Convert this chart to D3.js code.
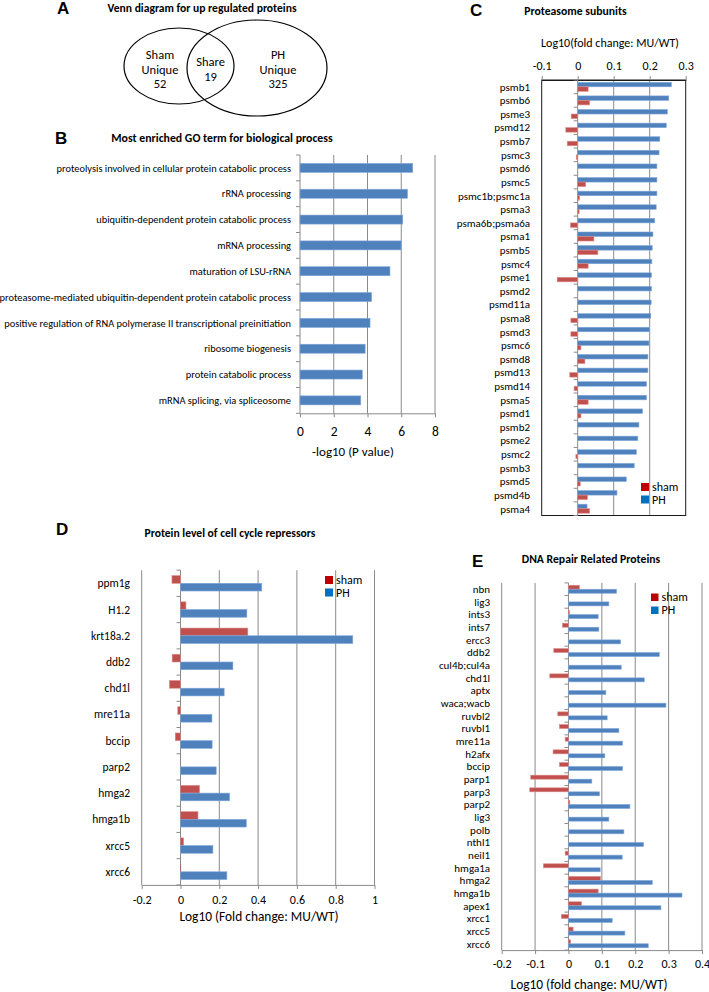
<!DOCTYPE html>
<html>
<head>
<meta charset="utf-8">
<script src="https://cdn.jsdelivr.net/npm/d3@7"></script>
<style>
  body { margin: 0; background: #fff; }
  svg { display: block; }
</style>
</head>
<body>
<svg id="fig" width="709" height="992"></svg>
<script>
// ---- data ----
const seriesNames = ['sham', 'PH']

const vennNames = [['Sham', 'Unique'], ['Share'], ['PH', 'Unique']]
const vennCounts = [52, 19, 325]

const goTerms = [
  'proteolysis involved in cellular protein catabolic process',
  'rRNA processing',
  'ubiquitin-dependent protein catabolic process',
  'mRNA processing',
  'maturation of LSU-rRNA',
  'proteasome-mediated ubiquitin-dependent protein catabolic process',
  'positive regulation of RNA polymerase II transcriptional preinitiation',
  'ribosome biogenesis',
  'protein catabolic process',
  'mRNA splicing, via spliceosome'
]
const goScores = [6.68, 6.37, 6.09, 5.99, 5.33, 4.24, 4.15, 3.86, 3.69, 3.6]
const goTicks = [0, 2, 4, 6, 8]

const proteasomeGenes = ['psmb1', 'psmb6', 'psme3', 'psmd12', 'psmb7', 'psmc3', 'psmd6', 'psmc5',
  'psmc1b;psmc1a', 'psma3', 'psma6b;psma6a', 'psma1', 'psmb5', 'psmc4', 'psme1', 'psmd2', 'psmd11a',
  'psma8', 'psmd3', 'psmc6', 'psmd8', 'psmd13', 'psmd14', 'psma5', 'psmd1', 'psmb2', 'psme2', 'psmc2',
  'psmb3', 'psmd5', 'psmd4b', 'psma4']
const proteasomePH = [0.260, 0.253, 0.249, 0.246, 0.228, 0.226, 0.220, 0.220, 0.220, 0.218, 0.214,
  0.209, 0.207, 0.206, 0.205, 0.205, 0.204, 0.203, 0.200, 0.198, 0.195, 0.195, 0.191, 0.191, 0.180,
  0.170, 0.167, 0.163, 0.157, 0.135, 0.109, 0.026]
const proteasomeSham = [0.029, 0.033, -0.018, -0.033, -0.029, -0.004, 0.0, 0.022, 0.005, 0.004, -0.020,
  0.045, 0.056, 0.029, -0.057, 0.0, 0.0, -0.019, -0.019, 0.009, 0.020, -0.022, -0.010, 0.029, 0.009,
  0.0, 0.0, -0.005, 0.0, 0.007, 0.027, 0.033]
const proteasomeTicks = [-0.1, 0, 0.1, 0.2, 0.3]

const cycleGenes = ['ppm1g', 'H1.2', 'krt18a.2', 'ddb2', 'chd1l', 'mre11a', 'bccip', 'parp2', 'hmga2',
  'hmga1b', 'xrcc5', 'xrcc6']
const cyclePH = [0.419, 0.342, 0.888, 0.270, 0.225, 0.162, 0.163, 0.184, 0.253, 0.339, 0.167, 0.239]
const cycleSham = [-0.044, 0.028, 0.347, -0.043, -0.057, -0.014, -0.027, 0.0, 0.098, 0.090, 0.016, 0.003]
const cycleTicks = [-0.2, 0, 0.2, 0.4, 0.6, 0.8, 1]

const repairGenes = ['nbn', 'lig3', 'ints3', 'ints7', 'ercc3', 'ddb2', 'cul4b;cul4a', 'chd1l', 'aptx',
  'waca;wacb', 'ruvbl2', 'ruvbl1', 'mre11a', 'h2afx', 'bccip', 'parp1', 'parp3', 'parp2', 'lig3', 'polb',
  'nthl1', 'neil1', 'hmga1a', 'hmga2', 'hmga1b', 'apex1', 'xrcc1', 'xrcc5', 'xrcc6']
const repairPH = [0.144, 0.121, 0.089, 0.091, 0.156, 0.272, 0.158, 0.227, 0.112, 0.292, 0.116, 0.151,
  0.162, 0.109, 0.162, 0.070, 0.093, 0.184, 0.121, 0.166, 0.225, 0.161, 0.095, 0.251, 0.340, 0.277,
  0.131, 0.169, 0.239]
const repairSham = [0.033, 0.0, 0.003, -0.018, 0.0, -0.044, 0.0, -0.056, 0.0, 0.0, -0.032, -0.027,
  -0.010, -0.046, -0.027, -0.113, -0.116, 0.004, 0.0, 0.0, 0.0, -0.010, -0.075, 0.096, 0.089, 0.039,
  -0.021, 0.014, 0.006]
const repairTicks = [-0.2, -0.1, 0, 0.1, 0.2, 0.3, 0.4]

// ---- styles ----
const FONT = "Carlito, Lato, 'Noto Sans', sans-serif"
const BLUE = '#4f81bd'
const RED = '#c0504d'
const GRID = '#8a8a8a'
const legendColors = ['#c00000', '#0070c0']

const svg = d3.select('#fig').attr('font-family', FONT)

function panelLetter (letter, x, y) {
  svg.append('text').attr('x', x).attr('y', y)
    .attr('font-family', "'Liberation Sans', Arial, sans-serif")
    .attr('font-weight', 'bold').attr('font-size', 17).text(letter)
}

function panelTitle (txt, cx, y, size) {
  svg.append('text').attr('x', cx).attr('y', y).attr('text-anchor', 'middle')
    .attr('font-weight', 'bold').attr('font-size', size).text(txt)
}

function legend (x, y, gap, size, fontSize) {
  const g = svg.append('g')
  seriesNames.forEach((name, i) => {
    g.append('rect').attr('x', x).attr('y', y + i * gap).attr('width', size).attr('height', size)
      .attr('fill', legendColors[i])
    g.append('text').attr('x', x + size + 3).attr('y', y + i * gap + size / 2).attr('dy', '0.35em')
      .attr('font-size', fontSize).text(name)
  })
}

function hbars (cfg) {
  const g = svg.append('g')
  const [top, bottom] = cfg.yRange
  const x = d3.scaleLinear().domain(cfg.domain).range(cfg.xRange)
  const y = d3.scaleBand().domain(d3.range(cfg.cats.length)).range(cfg.yRange)

  // vertical gridlines
  g.append('g').selectAll('line').data(cfg.grid).join('line')
    .attr('x1', d => x(d)).attr('x2', d => x(d))
    .attr('y1', top).attr('y2', bottom)
    .attr('stroke', GRID)

  if (cfg.box) {
    g.append('rect').attr('x', cfg.xRange[0]).attr('y', top)
      .attr('width', cfg.xRange[1] - cfg.xRange[0]).attr('height', bottom - top)
      .attr('fill', 'none').attr('stroke', '#1a1a1a')
  }

  // value axis
  const axis = (cfg.axisTop ? d3.axisTop(x) : d3.axisBottom(x))
    .tickValues(cfg.ticks)
    .tickFormat(d => String(+d.toFixed(1)))
    .tickSizeInner(4).tickSizeOuter(0).tickPadding(cfg.tickPad)
  const ax = g.append('g')
    .attr('transform', `translate(0,${cfg.axisTop ? top : bottom})`)
    .call(axis)
  ax.select('.domain').attr('stroke', cfg.box ? '#1a1a1a' : GRID)
  ax.selectAll('.tick line').attr('stroke', GRID)
  ax.selectAll('.tick text').attr('font-family', FONT).attr('font-size', cfg.tickFont).attr('fill', '#000')

  // category axis on the zero line, ticks between categories
  const x0 = x(0)
  g.append('line').attr('x1', x0).attr('x2', x0).attr('y1', top).attr('y2', bottom).attr('stroke', GRID)
  g.append('g').selectAll('line').data(d3.range(cfg.cats.length + 1)).join('line')
    .attr('x1', x0 - 4).attr('x2', x0)
    .attr('y1', i => top + i * y.step()).attr('y2', i => top + i * y.step())
    .attr('stroke', GRID)

  // bars, one row per series inside each band
  const n = cfg.series.length
  cfg.series.forEach((s, k) => {
    g.append('g').selectAll('rect').data(s.values).join('rect')
      .attr('x', v => x(Math.min(0, v)))
      .attr('width', v => Math.abs(x(v) - x0))
      .attr('y', (v, i) => y(i) + y.bandwidth() / 2 - n * cfg.barH / 2 + k * cfg.barH)
      .attr('height', cfg.barH)
      .attr('fill', s.color)
      .attr('stroke', v => Math.abs(x(v) - x0) > 1 ? s.edge : 'none')
      .attr('stroke-width', 0.6)
  })

  // category labels
  g.append('g').selectAll('text').data(cfg.cats).join('text')
    .attr('x', cfg.labelX)
    .attr('y', (c, i) => y(i) + y.bandwidth() / 2)
    .attr('dy', '0.35em')
    .attr('text-anchor', 'end')
    .attr('font-size', cfg.labelFont)
    .text(c => c)

  // axis title
  g.append('text').attr('x', cfg.title[0]).attr('y', cfg.title[1])
    .attr('text-anchor', 'middle').attr('font-size', cfg.titleFont)
    .text(cfg.title[2])
}

const blueSeries = values => ({ values, color: BLUE, edge: '#7fa7d9' })
const redSeries = values => ({ values, color: RED, edge: '#dc8a88' })

// ---- A: Venn ----
panelLetter('A', 57, 14)
panelTitle('Venn diagram for up regulated proteins', 202, 12, 11.6)

const venn = svg.append('g')
venn.append('ellipse').attr('cx', 179).attr('cy', 66).attr('rx', 55).attr('ry', 38)
  .attr('fill', 'none').attr('stroke', '#000').attr('stroke-width', 1.2)
venn.append('ellipse').attr('cx', 257).attr('cy', 68).attr('rx', 70).attr('ry', 48)
  .attr('fill', 'none').attr('stroke', '#000').attr('stroke-width', 1.2)

const vennCenters = [[160, 59], [210.5, 66], [278, 59]]
vennNames.forEach((lines, i) => {
  const rows = lines.concat(String(vennCounts[i]))
  rows.forEach((t, j) => {
    venn.append('text').attr('x', vennCenters[i][0]).attr('y', vennCenters[i][1] + j * 14.5)
      .attr('text-anchor', 'middle').attr('font-size', 12.5).text(t)
  })
})

// ---- B: GO terms ----
panelLetter('B', 55, 144)
panelTitle('Most enriched GO term for biological process', 222, 142, 11.8)
hbars({
  cats: goTerms,
  series: [blueSeries(goScores)],
  domain: [0, 8], xRange: [300, 435],
  yRange: [155, 413.3],
  grid: [2, 4, 6, 8],
  ticks: goTicks,
  axisTop: false, tickPad: 9, tickFont: 13.5,
  barH: 9,
  labelX: 291, labelFont: 10.4,
  title: [353, 456, '-log10 (P value)'], titleFont: 13
})

// ---- C: proteasome ----
panelLetter('C', 470, 16)
panelTitle('Proteasome subunits', 575.5, 15, 11.7)
hbars({
  cats: proteasomeGenes,
  series: [blueSeries(proteasomePH), redSeries(proteasomeSham)],
  domain: [-0.1, 0.3], xRange: [541.7, 685.7],
  yRange: [80, 515.5],
  grid: [0.1, 0.2],
  box: true,
  ticks: proteasomeTicks,
  axisTop: true, tickPad: 6, tickFont: 12,
  barH: 4.5,
  labelX: 530, labelFont: 11,
  title: [610, 47, 'Log10(fold change: MU/WT)'], titleFont: 12
})
legend(641, 483, 12.5, 8, 12)

// ---- D: cell cycle repressors ----
panelLetter('D', 56, 535)
panelTitle('Protein level of cell cycle repressors', 230, 537, 11.6)
hbars({
  cats: cycleGenes,
  series: [redSeries(cycleSham), blueSeries(cyclePH)],
  domain: [-0.2, 1], xRange: [141.7, 374.5],
  yRange: [570.2, 884.9],
  grid: [-0.2, 0.2, 0.4, 0.6, 0.8, 1],
  ticks: cycleTicks,
  axisTop: false, tickPad: 7, tickFont: 12,
  barH: 7.7,
  labelX: 130, labelFont: 11.5,
  title: [259, 921, 'Log10 (Fold change: MU/WT)'], titleFont: 13.4
})
legend(325, 576, 12.5, 8, 12)

// ---- E: DNA repair ----
panelLetter('E', 472, 567)
panelTitle('DNA Repair Related Proteins', 591, 563, 11.7)
hbars({
  cats: repairGenes,
  series: [redSeries(repairSham), blueSeries(repairPH)],
  domain: [-0.2, 0.4], xRange: [501.7, 702],
  yRange: [582.9, 950.1],
  grid: [-0.2, -0.1, 0.1, 0.2, 0.3, 0.4],
  ticks: repairTicks,
  axisTop: false, tickPad: 5.5, tickFont: 12,
  barH: 4,
  labelX: 490, labelFont: 11,
  title: [589, 989, 'Log10 (fold change: MU/WT)'], titleFont: 13.4
})
legend(651, 593.5, 13, 7.5, 12)
</script>
</body>
</html>
